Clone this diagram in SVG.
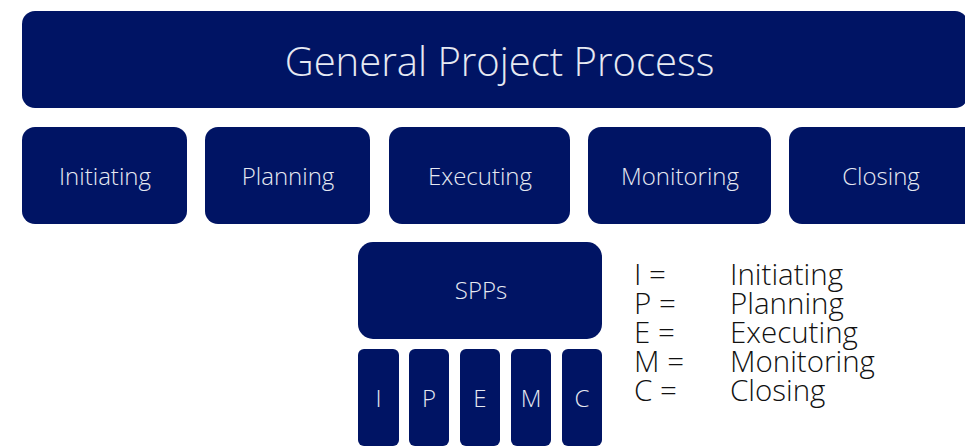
<svg xmlns="http://www.w3.org/2000/svg" width="965" height="447" viewBox="0 0 965 447">
<style>
.box{fill:#001464;}
.lbl{font-family:"Open Sans","Liberation Sans",sans-serif;font-weight:300;fill:#e6e9f2;text-anchor:middle;}
.leg{font-family:"Open Sans","Liberation Sans",sans-serif;font-weight:300;fill:#111;font-size:29.5px;}
</style>
<rect width="965" height="447" fill="#fff"/>
<g id="general"><rect class="box" x="22" y="11" width="946" height="97" rx="13"/><text class="lbl" x="499.5" y="76" font-size="40">General Project Process</text></g>
<g id="initiating"><rect class="box" x="22" y="127" width="165" height="97" rx="13"/><text class="lbl" x="105" y="185" font-size="24">Initiating</text></g>
<g id="planning"><rect class="box" x="205" y="127" width="165" height="97" rx="13"/><text class="lbl" x="288" y="185" font-size="24">Planning</text></g>
<g id="executing"><rect class="box" x="389" y="127" width="181" height="97" rx="13"/><text class="lbl" x="480" y="185" font-size="24">Executing</text></g>
<g id="monitoring"><rect class="box" x="588" y="127" width="183" height="97" rx="13"/><text class="lbl" x="680" y="185" font-size="24">Monitoring</text></g>
<g id="closing"><rect class="box" x="789" y="127" width="190" height="97" rx="13"/><text class="lbl" x="881" y="185" font-size="24">Closing</text></g>
<g id="spps"><rect class="box" x="358" y="242" width="244" height="97" rx="15"/><text class="lbl" x="481" y="299" font-size="24">SPPs</text></g>
<g id="sI"><rect class="box" x="358" y="349" width="41" height="97" rx="6"/><text class="lbl" x="378.5" y="407" font-size="24">I</text></g>
<g id="sP"><rect class="box" x="409" y="349" width="40" height="97" rx="6"/><text class="lbl" x="429" y="407" font-size="24">P</text></g>
<g id="sE"><rect class="box" x="460" y="349" width="40" height="97" rx="6"/><text class="lbl" x="480" y="407" font-size="24">E</text></g>
<g id="sM"><rect class="box" x="511" y="349" width="40" height="97" rx="6"/><text class="lbl" x="531" y="407" font-size="24">M</text></g>
<g id="sC"><rect class="box" x="562" y="349" width="40" height="97" rx="6"/><text class="lbl" x="582" y="407" font-size="24">C</text></g>
<g id="legend">
<text class="leg" x="634" y="285">I =</text><text class="leg" x="730" y="285">Initiating</text>
<text class="leg" x="634" y="314">P =</text><text class="leg" x="730" y="314">Planning</text>
<text class="leg" x="634" y="343">E =</text><text class="leg" x="730" y="343">Executing</text>
<text class="leg" x="634" y="372">M =</text><text class="leg" x="730" y="372">Monitoring</text>
<text class="leg" x="634" y="401">C =</text><text class="leg" x="730" y="401">Closing</text>
</g>
<g id="connectors"></g>
</svg>
